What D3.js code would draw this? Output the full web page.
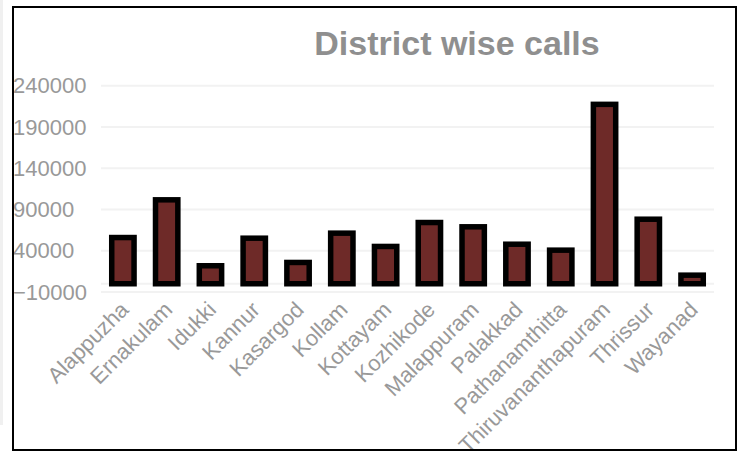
<!DOCTYPE html>
<html>
<head>
<meta charset="utf-8">
<script src="https://cdn.jsdelivr.net/npm/d3@7"></script>
<style>
  html, body { margin: 0; padding: 0; background: #fff; }
  svg { display: block; }
  text { font-family: "Liberation Sans", Arial, sans-serif; }
</style>
</head>
<body>
<svg id="chart" width="742" height="453"></svg>
<script>
const categories = ["Alappuzha","Ernakulam","Idukki","Kannur","Kasargod","Kollam","Kottayam","Kozhikode","Malappuram","Palakkad","Pathanamthitta","Thiruvananthapuram","Thrissur","Wayanad"];
const calls = [56000, 101700, 21800, 55200, 25800, 61300, 45200, 74200, 69000, 47900, 40700, 217400, 78200, 10400];
const yTicks = [-10000, 40000, 90000, 140000, 190000, 240000];
const title = "District wise calls";

const svg = d3.select("#chart");

// faint strip at far left
svg.append("rect").attr("x", 0).attr("y", 0).attr("width", 3).attr("height", 425).attr("fill", "#f0f0f0");

// clip for frame
svg.append("clipPath").attr("id", "frameClip")
  .append("rect").attr("x", 13).attr("y", 7).attr("width", 723).attr("height", 443);

const g = svg.append("g").attr("clip-path", "url(#frameClip)");

const x = d3.scaleBand().domain(categories).range([101, 714]).paddingInner(0.49).paddingOuter(0.245);
const y = d3.scaleLinear().domain([-10000, 240000]).range([292, 85.7]);

// gridlines
g.append("g").selectAll("line").data(yTicks).join("line")
  .attr("x1", 101).attr("x2", 714)
  .attr("y1", d => y(d)).attr("y2", d => y(d))
  .attr("stroke", "#f2f2f2").attr("stroke-width", 2);
// zero line
g.append("line").attr("x1", 101).attr("x2", 714)
  .attr("y1", y(0)).attr("y2", y(0))
  .attr("stroke", "#f2f2f2").attr("stroke-width", 2);

// y axis labels
const yAxis = d3.axisLeft(y).tickValues(yTicks).tickSize(0).tickFormat(d3.format("d"));
const ya = g.append("g").attr("transform", "translate(13,0)").call(yAxis);
ya.select(".domain").remove();
ya.selectAll("text")
  .attr("x", 0).attr("text-anchor", "start")
  .attr("fill", "#999").attr("font-size", 22)
  .attr("font-family", "Liberation Sans, Arial, sans-serif");

// bars
g.append("g").selectAll("rect").data(categories).join("rect")
  .attr("x", d => x(d))
  .attr("width", x.bandwidth())
  .attr("y", (d, i) => y(Math.max(0, calls[i])))
  .attr("height", (d, i) => Math.abs(y(calls[i]) - y(0)))
  .attr("fill", "#6e2a28")
  .attr("stroke", "#000")
  .attr("stroke-width", 5.5);

// x axis labels
const xAxis = d3.axisBottom(x).tickSize(0);
const xa = g.append("g").attr("transform", "translate(0,300)").call(xAxis);
xa.select(".domain").remove();
xa.selectAll("text")
  .attr("fill", "#999").attr("font-size", 22)
  .attr("font-family", "Liberation Sans, Arial, sans-serif")
  .attr("text-anchor", "end")
  .attr("dy", "0.71em")
  .attr("y", 0)
  .attr("transform", "translate(-4,0) rotate(-45)");

// title
svg.append("text").attr("x", 457).attr("y", 55)
  .attr("text-anchor", "middle")
  .attr("font-size", 34).attr("font-weight", "bold")
  .attr("fill", "#8f8f8f")
  .text(title);

// frame
svg.append("rect").attr("x", 13).attr("y", 7).attr("width", 723).attr("height", 443)
  .attr("fill", "none").attr("stroke", "#000").attr("stroke-width", 2);
</script>
</body>
</html>
